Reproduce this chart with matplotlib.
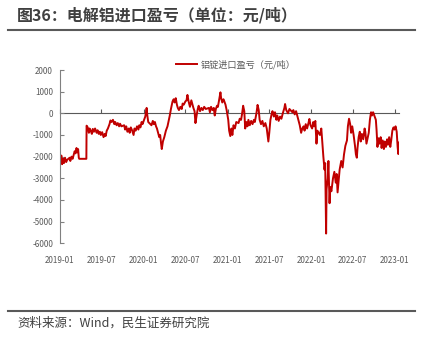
import matplotlib
matplotlib.use('Agg')
import matplotlib.pyplot as plt
import matplotlib.dates as mdates
from matplotlib.lines import Line2D
import pandas as pd

plt.rcParams['font.family'] = ['Noto Sans CJK SC', 'DejaVu Sans']
plt.rcParams['axes.unicode_minus'] = False

# 电解铝进口盈亏 (元/吨)
dates = [
    '2019-01-02', '2019-01-07', '2019-01-10', '2019-01-15', '2019-01-18', '2019-01-23', '2019-01-28',
    '2019-02-01', '2019-02-12', '2019-02-15', '2019-02-20', '2019-02-25', '2019-03-01', '2019-03-06',
    '2019-03-10', '2019-03-14', '2019-03-18', '2019-03-21', '2019-03-24', '2019-03-26', '2019-04-26',
    '2019-04-27', '2019-05-02', '2019-05-07', '2019-05-10', '2019-05-15', '2019-05-20', '2019-05-24',
    '2019-05-29', '2019-06-03', '2019-06-10', '2019-06-14', '2019-06-19', '2019-06-24', '2019-06-28',
    '2019-07-04', '2019-07-10', '2019-07-15', '2019-07-19', '2019-07-24', '2019-07-29', '2019-08-05',
    '2019-08-09', '2019-08-14', '2019-08-20', '2019-08-26', '2019-08-30', '2019-09-05', '2019-09-10',
    '2019-09-16', '2019-09-20', '2019-09-26', '2019-10-08', '2019-10-12', '2019-10-17', '2019-10-22',
    '2019-10-28', '2019-11-01', '2019-11-06', '2019-11-12', '2019-11-18', '2019-11-22', '2019-11-27',
    '2019-12-03', '2019-12-09', '2019-12-13', '2019-12-18', '2019-12-23', '2019-12-27',
    '2020-01-03', '2020-01-08', '2020-01-14', '2020-01-17', '2020-01-21', '2020-02-04', '2020-02-10',
    '2020-02-14', '2020-02-19', '2020-02-24', '2020-02-28', '2020-03-04', '2020-03-09', '2020-03-13',
    '2020-03-17', '2020-03-20', '2020-03-25', '2020-03-31', '2020-04-07', '2020-04-14', '2020-04-20',
    '2020-04-24', '2020-04-29', '2020-05-06', '2020-05-11', '2020-05-15', '2020-05-20', '2020-05-25',
    '2020-05-29', '2020-06-03', '2020-06-09', '2020-06-15', '2020-06-19', '2020-06-24', '2020-07-01',
    '2020-07-06', '2020-07-10', '2020-07-15', '2020-07-21', '2020-07-27', '2020-07-31', '2020-08-05',
    '2020-08-10', '2020-08-14', '2020-08-19', '2020-08-24', '2020-08-28', '2020-09-03', '2020-09-09',
    '2020-09-15', '2020-09-21', '2020-09-28', '2020-10-12', '2020-10-16', '2020-10-21', '2020-10-27',
    '2020-11-02', '2020-11-06', '2020-11-11', '2020-11-16', '2020-11-20', '2020-11-25', '2020-12-01',
    '2020-12-04', '2020-12-09', '2020-12-14', '2020-12-18', '2020-12-23', '2020-12-28',
    '2021-01-04', '2021-01-08', '2021-01-13', '2021-01-18', '2021-01-22', '2021-01-27', '2021-02-02',
    '2021-02-08', '2021-02-18', '2021-02-23', '2021-03-01', '2021-03-05', '2021-03-10', '2021-03-15',
    '2021-03-19', '2021-03-24', '2021-03-29', '2021-04-02', '2021-04-08', '2021-04-14', '2021-04-20',
    '2021-04-26', '2021-04-30', '2021-05-07', '2021-05-12', '2021-05-17', '2021-05-21', '2021-05-27',
    '2021-06-02', '2021-06-08', '2021-06-15', '2021-06-21', '2021-06-28', '2021-07-02', '2021-07-07',
    '2021-07-12', '2021-07-16', '2021-07-22', '2021-07-27', '2021-08-02', '2021-08-06', '2021-08-12',
    '2021-08-18', '2021-08-24', '2021-08-30', '2021-09-06', '2021-09-09', '2021-09-14', '2021-09-22',
    '2021-09-28', '2021-10-11', '2021-10-15', '2021-10-21', '2021-10-27', '2021-11-02', '2021-11-08',
    '2021-11-12', '2021-11-18', '2021-11-23', '2021-11-29', '2021-12-03', '2021-12-08', '2021-12-14',
    '2021-12-20', '2021-12-24', '2021-12-29',
    '2022-01-05', '2022-01-10', '2022-01-14', '2022-01-19', '2022-01-24', '2022-01-28', '2022-02-08',
    '2022-02-14', '2022-02-18', '2022-02-23', '2022-02-28', '2022-03-03', '2022-03-07', '2022-03-09',
    '2022-03-14', '2022-03-17', '2022-03-22', '2022-03-25', '2022-03-30', '2022-04-06', '2022-04-12',
    '2022-04-18', '2022-04-22', '2022-04-26', '2022-05-05', '2022-05-12', '2022-05-18', '2022-05-24',
    '2022-05-30', '2022-06-06', '2022-06-10', '2022-06-15', '2022-06-20', '2022-06-24', '2022-06-29',
    '2022-07-05', '2022-07-11', '2022-07-15', '2022-07-19', '2022-07-22', '2022-07-27', '2022-08-01',
    '2022-08-05', '2022-08-10', '2022-08-16', '2022-08-22', '2022-08-25', '2022-08-30', '2022-09-05',
    '2022-09-09', '2022-09-14', '2022-09-19', '2022-09-23', '2022-09-28', '2022-10-10', '2022-10-13',
    '2022-10-17', '2022-10-21', '2022-10-26', '2022-10-31', '2022-11-04', '2022-11-09', '2022-11-14',
    '2022-11-18', '2022-11-23', '2022-11-28', '2022-12-02', '2022-12-07', '2022-12-12', '2022-12-16',
    '2022-12-21', '2022-12-26', '2022-12-30',
    '2023-01-04', '2023-01-09', '2023-01-13', '2023-01-16', '2023-01-19',
]
profit = [
    -2200, -1950, -2350, -2100, -2300, -2050, -2250,
    -2150, -2050, -2200, -2000, -2100, -1950, -1750,
    -1850, -1600, -1800, -1650, -2050, -2100, -2100,
    -570, -650, -900, -700, -800, -950, -720,
    -850, -700, -900, -780, -950, -850, -1000,
    -870, -1100, -950, -1050, -800, -700, -500,
    -330, -400, -300, -500, -400, -550, -450,
    -600, -480, -600, -550, -750, -600, -850,
    -700, -900, -650, -800, -1000, -700, -800,
    -600, -750, -550, -650, -400, -500,
    -300, -150, 250, -100, -400, -550, -350,
    -500, -400, -600, -700, -900, -1100, -1000,
    -1400, -1650, -1300, -1100, -800, -600, -300,
    -100, 200, 550, 650, 500, 700, 400,
    250, 150, 300, 200, 450, 400, 550,
    600, 850, 550, 300, 600, 450, 250,
    100, -450, -100, 200, 350, 100, 250,
    150, 300, 200, 250, 50, 300, 150,
    250, -100, 200, 350, 300, 600, 970,
    700, 500, 650, 550, 400, 150,
    -300, -800, -1050, -700, -1000, -550, -700,
    -400, -450, -250, -300, -50, 350, 100,
    -700, -400, -600, -300, -550, -350, -500,
    -300, -400, 0, 390, 150, -300, -500,
    -350, -600, -450, -700, -1300, -900, -300,
    -50, 100, -150, 50, -300, -100, -350,
    -150, -250, 0, 250, 430, 150, 0,
    200, 50, 150, -50, 100, -150, -400,
    -550, -900, -700, -600, -800, -500, -700,
    -450, -260, -550,
    -700, -400, -600, -350, -1400, -800, -1000,
    -700, -1300, -2000, -2600, -2300, -5550, -3500,
    -3000, -2200, -4150, -3400, -3600, -3000, -2700,
    -3200, -2800, -3650, -2600, -2200, -2500, -1900,
    -1500, -1250, -600, -250, -500, -900, -600,
    -1000, -1500, -1900, -2050, -1600, -1100, -850,
    -1300, -950, -1200, -700, -850, -1400, -1100,
    -900, -300, 50, -100, 50, -300, -750,
    -1550, -1150, -1400, -1100, -1600, -1250, -1650,
    -1300, -1550, -1200, -1450, -1100, -1550, -1250,
    -800, -650, -750,
    -600, -850, -1550, -1880, -1350,
]
tick_labels = ['2019-01', '2019-07', '2020-01', '2020-07', '2021-01',
               '2021-07', '2022-01', '2022-07', '2023-01']
y_ticks = [2000, 1000, 0, -1000, -2000, -3000, -4000, -5000, -6000]

x = mdates.date2num(pd.to_datetime(dates))
xt = mdates.date2num(pd.to_datetime([t + '-01' for t in tick_labels]))

fig = plt.figure(figsize=(4.3, 3.38), dpi=100)
ax = fig.add_axes([60 / 430, 1 - 243.3 / 338, 339 / 430, 173.3 / 338])

ax.plot(x, profit, color='#C00000', lw=1.4, label='铝锭进口盈亏（元/吨）')

ax.set_ylim(-6000, 2000)
ax.set_xlim(mdates.date2num(pd.Timestamp('2019-01-01')),
            mdates.date2num(pd.Timestamp('2023-01-19')))
ax.set_yticks(y_ticks)
ax.set_yticklabels([str(v) for v in y_ticks])
ax.set_xticks(xt)
ax.set_xticklabels(tick_labels)

for s in ['top', 'right', 'bottom']:
    ax.spines[s].set_visible(False)
ax.spines['left'].set_color('#808080')
ax.spines['left'].set_linewidth(0.8)
ax.tick_params(axis='y', direction='in', length=3, width=0.8, color='#808080',
               labelsize=5.8, labelcolor='#595959', pad=5)
ax.tick_params(axis='x', length=0, labelsize=5.8, labelcolor='#595959', pad=9)

# zero line with its own tick marks
zero = ax.secondary_xaxis(0.75)
zero.set_xticks(xt)
zero.set_xticklabels([])
zero.tick_params(axis='x', direction='out', length=3, width=0.8, color='#595959')
for s in zero.spines.values():
    s.set_color('#595959')
    s.set_linewidth(0.8)

ax.legend(loc='upper center', bbox_to_anchor=(0.518, 1.107), frameon=False,
          fontsize=6.6, labelcolor='#595959', handlelength=2.3, handletextpad=0.35)

fig.text(17 / 430, 1 - 15 / 338, '图36：电解铝进口盈亏（单位：元/吨）', fontsize=11.5,
         fontweight='bold', color='#404040', va='center', ha='left')
fig.add_artist(Line2D([8 / 430, 415 / 430], [1 - 30 / 338] * 2, color='#595959', lw=1.5))
fig.add_artist(Line2D([8 / 430, 415 / 430], [1 - 311 / 338] * 2, color='#595959', lw=1.5))
fig.text(17 / 430, 1 - 323 / 338, '资料来源：Wind，民生证券研究院', fontsize=9,
         color='#404040', va='center', ha='left')

fig.savefig('out.png', dpi=100)
